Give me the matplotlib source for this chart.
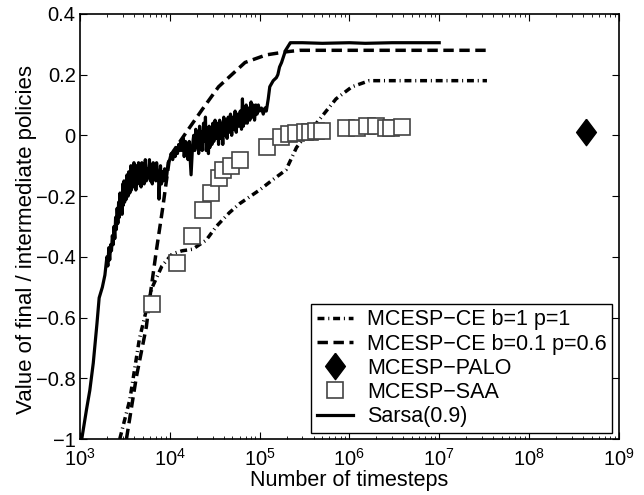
import numpy as np
import matplotlib
matplotlib.use('Agg')
import matplotlib.pyplot as plt
from matplotlib.ticker import LogLocator, NullFormatter

plt.rcParams['font.family'] = ['Liberation Sans', 'DejaVu Sans']
plt.rcParams['mathtext.fontset'] = 'custom'
plt.rcParams['mathtext.rm'] = 'Liberation Sans'
plt.rcParams['mathtext.default'] = 'rm'

# MCESP-CE b=1 p=1 (dash-dot)
ce1_x = [2.78e3, 3.6e3, 4.6e3, 5.5e3, 6.4e3, 8.2e3, 1.07e4, 1.38e4, 1.8e4, 2.55e4,
         3.3e4, 4.6e4, 6.0e4, 1.0e5, 1.42e5, 1.97e5, 2.58e5, 3.0e5, 4.3e5, 7.1e5,
         1.07e6, 1.67e6, 3.4e7]
ce1_y = [-1.0, -0.87, -0.67, -0.575, -0.5, -0.43, -0.39, -0.38, -0.375, -0.345,
         -0.30, -0.255, -0.225, -0.18, -0.145, -0.114, -0.04, -0.015, 0.04, 0.12,
         0.16, 0.18, 0.18]

# MCESP-CE b=0.1 p=0.6 (dashed)
ce2_x = [3.3e3, 4.26e3, 5.5e3, 5.98e3, 7.1e3, 8.4e3, 1.0e4, 1.53e4, 2.3e4, 3.5e4,
         6.9e4, 1.19e5, 1.97e5, 2.8e5, 3.3e7]
ce2_y = [-1.0, -0.795, -0.63, -0.54, -0.38, -0.235, -0.07, 0.01, 0.085, 0.16,
         0.24, 0.265, 0.275, 0.28, 0.28]

# MCESP-PALO
palo_x = [4.3e8]
palo_y = [0.01]

# MCESP-SAA
saa_x = [6.3e3, 1.2e4, 1.77e4, 2.35e4, 2.85e4, 3.5e4, 3.9e4, 4.85e4, 6.0e4, 1.2e5,
         1.74e5, 2.15e5, 2.56e5, 3.2e5, 3.6e5, 4.3e5, 4.9e5, 9.1e5, 1.22e6, 1.58e6,
         1.97e6, 2.55e6, 2.9e6, 3.85e6]
saa_y = [-0.555, -0.42, -0.33, -0.245, -0.19, -0.14, -0.114, -0.1, -0.08, -0.04,
         -0.005, 0.005, 0.008, 0.01, 0.01, 0.014, 0.014, 0.024, 0.024, 0.03,
         0.03, 0.025, 0.025, 0.028]

# Sarsa(0.9)
sarsa_x = [1.05e3, 1.19e3, 1.29e3, 1.41e3, 1.55e3, 1.64e3, 1.78e3, 1.90e3, 2.0e3, 2.05e3,
           2.1e3, 2.15e3, 2.2e3, 2.25e3, 2.3e3, 2.35e3, 2.4e3, 2.45e3, 2.5e3, 2.55e3,
           2.6e3, 2.65e3, 2.7e3, 2.75e3, 2.8e3, 2.85e3, 2.9e3, 2.95e3, 3.0e3, 3.05e3,
           3.1e3, 3.15e3, 3.2e3, 3.3e3, 3.35e3, 3.45e3, 3.5e3, 3.6e3, 3.7e3, 3.75e3,
           3.85e3, 3.9e3, 4.0e3, 4.05e3, 4.15e3, 4.2e3, 4.3e3, 4.4e3, 4.5e3, 4.6e3,
           4.7e3, 4.8e3, 4.9e3, 5.0e3, 5.1e3, 5.2e3, 5.35e3, 5.5e3, 5.65e3, 5.8e3,
           5.95e3, 6.1e3, 6.25e3, 6.4e3, 6.55e3, 6.7e3, 6.85e3, 7.0e3, 7.15e3, 7.3e3,
           7.5e3, 7.6e3, 7.8e3, 7.9e3, 8.1e3, 8.3e3, 8.5e3, 8.8e3, 9.0e3, 9.3e3,
           9.6e3, 1.0e4, 1.04e4, 1.08e4, 1.12e4, 1.15e4, 1.19e4, 1.22e4, 1.26e4, 1.3e4,
           1.34e4, 1.38e4, 1.42e4, 1.45e4, 1.5e4, 1.55e4, 1.6e4, 1.65e4, 1.73e4, 1.8e4,
           1.85e4, 1.9e4, 1.95e4, 2.0e4, 2.05e4, 2.1e4, 2.15e4, 2.2e4, 2.25e4, 2.3e4,
           2.38e4, 2.45e4, 2.5e4, 2.55e4, 2.62e4, 2.7e4, 2.75e4, 2.8e4, 2.88e4, 2.95e4,
           3.02e4, 3.1e4, 3.2e4, 3.3e4, 3.4e4, 3.5e4, 3.6e4, 3.7e4, 3.8e4, 3.9e4,
           4.0e4, 4.1e4, 4.22e4, 4.35e4, 4.48e4, 4.6e4, 4.75e4, 4.9e4, 5.05e4, 5.2e4,
           5.35e4, 5.5e4, 5.7e4, 5.9e4, 6.1e4, 6.3e4, 6.45e4, 6.6e4, 6.75e4, 6.9e4,
           7.1e4, 7.3e4, 7.55e4, 7.8e4, 8.05e4, 8.3e4, 8.55e4, 8.8e4, 9.1e4, 9.4e4,
           9.7e4, 1.0e5, 1.05e5, 1.1e5, 1.15e5, 1.19e5, 1.25e5, 1.3e5, 1.36e5, 1.42e5,
           1.48e5, 1.54e5, 1.6e5, 1.67e5, 1.76e5, 1.85e5, 1.95e5, 2.05e5, 2.15e5, 2.2e5,
           2.5e5, 3.0e5, 5.0e5, 1.0e6, 1.5e6, 3.0e6, 1.0e7]
sarsa_y = [-1.0, -0.9, -0.84, -0.75, -0.62, -0.535, -0.5, -0.46, -0.40, -0.43,
           -0.37, -0.41, -0.36, -0.38, -0.33, -0.36, -0.30, -0.34, -0.27, -0.31,
           -0.24, -0.29, -0.22, -0.27, -0.19, -0.25, -0.21, -0.26, -0.16, -0.23,
           -0.15, -0.22, -0.17, -0.21, -0.13, -0.20, -0.12, -0.19, -0.10, -0.18,
           -0.12, -0.17, -0.09, -0.16, -0.11, -0.18, -0.10, -0.16, -0.09, -0.15,
           -0.11, -0.17, -0.09, -0.14, -0.10, -0.16, -0.08, -0.15, -0.11, -0.14,
           -0.08, -0.15, -0.10, -0.16, -0.09, -0.14, -0.10, -0.15, -0.09, -0.13,
           -0.12, -0.21, -0.13, -0.10, -0.16, -0.12, -0.15, -0.11, -0.15, -0.13,
           -0.09, -0.08, -0.06, -0.08, -0.05, -0.07, -0.04, -0.06, -0.03, -0.05,
           -0.02, -0.05, -0.01, -0.07, -0.02, -0.04, -0.08, -0.02, -0.13, -0.03,
           0.0, -0.05, 0.02, -0.04, 0.01, -0.06, 0.03, -0.03, 0.01, -0.05,
           0.04, -0.02, 0.06, -0.05, 0.02, -0.06, 0.03, -0.04, 0.02, -0.03,
           0.04, -0.02, 0.05, -0.01, 0.04, -0.03, 0.05, -0.01, 0.04, -0.03,
           0.06, 0.0, 0.05, -0.01, 0.06, 0.01, 0.07, 0.0, 0.06, 0.02,
           0.08, 0.01, 0.07, 0.03, 0.08, 0.02, 0.12, 0.03, 0.09, 0.04,
           0.10, 0.04, 0.09, 0.05, 0.11, 0.06, 0.10, 0.05, 0.10, 0.07,
           0.10, 0.08, 0.09, 0.07, 0.09, 0.08, 0.12, 0.16, 0.17, 0.18,
           0.185, 0.19, 0.20, 0.225, 0.24, 0.26, 0.28, 0.29, 0.30, 0.305,
           0.305, 0.305, 0.303, 0.305, 0.303, 0.305, 0.305]

fig = plt.figure(figsize=(6.44, 4.95), dpi=100)
ax = fig.add_axes([0.124, 0.113, 0.837, 0.859])

ax.plot(ce1_x, ce1_y, color='black', lw=2.5, ls=(0, (2.0, 1.1, 0.3, 1.1)),
        label='MCESP\u2212CE b=1 p=1')
ax.plot(ce2_x, ce2_y, color='black', lw=2.5, ls=(0, (3.0, 1.6)),
        label='MCESP\u2212CE b=0.1 p=0.6')
diamond = [(0, 1), (0.75, 0), (0, -1), (-0.75, 0), (0, 1)]
ax.plot(palo_x, palo_y, ls='none', marker=diamond, ms=19, color='black',
        label='MCESP\u2212PALO')
ax.plot(saa_x, saa_y, ls='none', marker='s', ms=11, mfc='white', mec='#444444',
        mew=1.2, label='MCESP\u2212SAA')
ax.plot(sarsa_x, sarsa_y, color='black', lw=2.3, label='Sarsa(0.9)')

ax.set_xscale('log')
ax.set_xlim(1e3, 1e9)
ax.set_ylim(-1, 0.4)
ax.set_yticks([-1, -0.8, -0.6, -0.4, -0.2, 0, 0.2, 0.4])
ax.set_yticklabels(['\u22121', '\u22120.8', '\u22120.6', '\u22120.4', '\u22120.2',
                    '0', '0.2', '0.4'])
ax.xaxis.set_minor_locator(LogLocator(base=10, subs=np.arange(2, 10), numticks=20))
ax.xaxis.set_minor_formatter(NullFormatter())
ax.tick_params(which='both', direction='in', top=True, right=True, labelsize=14.5)
ax.tick_params(which='major', length=5, width=0.8, pad=3)
ax.tick_params(axis='x', which='major', pad=6.5)
ax.tick_params(which='minor', length=2.5, width=0.6)
for s in ax.spines.values():
    s.set_linewidth(1.2)

ax.set_xlabel('Number of timesteps', fontsize=15.5, labelpad=0)
ax.set_ylabel('Value of final / intermediate policies', fontsize=16)
ax.yaxis.set_label_coords(-0.08, 0.47)

leg = ax.legend(loc='lower right', fontsize=15.5, frameon=True, fancybox=False,
                edgecolor='black', framealpha=1, handlelength=1.7,
                borderaxespad=0.3, labelspacing=0.15, borderpad=0.25,
                handletextpad=0.65)
leg.get_frame().set_linewidth(1.0)

fig.savefig('out.png', dpi=100)
